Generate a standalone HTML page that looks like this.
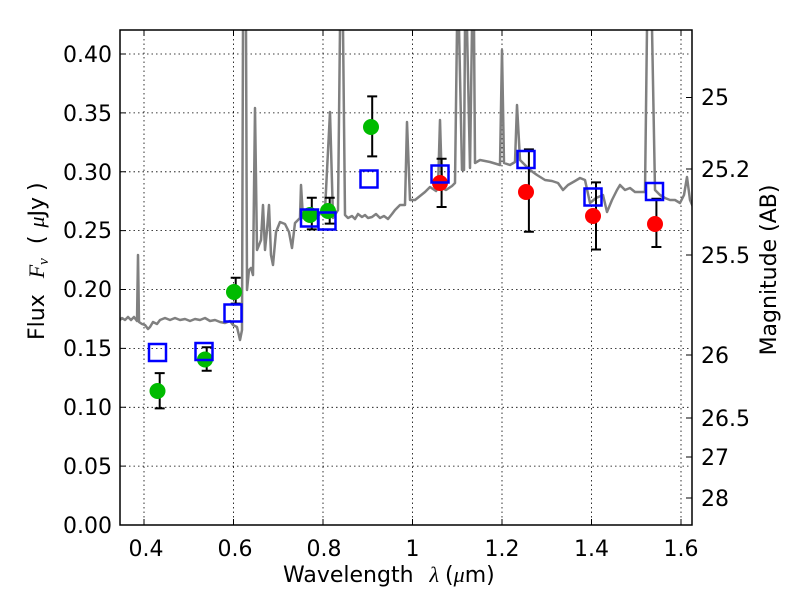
<!DOCTYPE html>
<html><head><meta charset="utf-8"><style>
html,body{margin:0;padding:0;background:#fff;}
svg text{font-family:"DejaVu Sans","Liberation Sans",sans-serif;font-size:22px;fill:#000;}
</style></head><body>
<svg width="800" height="600" viewBox="0 0 800 600" xmlns="http://www.w3.org/2000/svg">
<rect width="800" height="600" fill="#fff"/>
<defs><clipPath id="c"><rect x="120" y="30" width="572" height="495"/></clipPath></defs>
<g stroke="#000" stroke-width="0.8" stroke-dasharray="1.5,3" fill="none">
<line x1="144" y1="30" x2="144" y2="525"/><line x1="233.5" y1="30" x2="233.5" y2="525"/>
<line x1="323" y1="30" x2="323" y2="525"/><line x1="412.5" y1="30" x2="412.5" y2="525"/>
<line x1="502" y1="30" x2="502" y2="525"/><line x1="591.5" y1="30" x2="591.5" y2="525"/>
<line x1="681" y1="30" x2="681" y2="525"/>
<line x1="120" y1="466.1" x2="692" y2="466.1"/><line x1="120" y1="407.3" x2="692" y2="407.3"/>
<line x1="120" y1="348.4" x2="692" y2="348.4"/><line x1="120" y1="289.5" x2="692" y2="289.5"/>
<line x1="120" y1="230.6" x2="692" y2="230.6"/><line x1="120" y1="171.8" x2="692" y2="171.8"/>
<line x1="120" y1="112.9" x2="692" y2="112.9"/><line x1="120" y1="54" x2="692" y2="54"/>
</g>
<g clip-path="url(#c)">
<polyline fill="none" stroke="#808080" stroke-width="2.5" stroke-linejoin="round" points="
119,321 122,318 125,320 128,317 131,320 134,317 137,321 138,255 139,322 142,324 145,325 148,329 150,327 153,322 157,324 160,320 165,318 170,320 175,318 180,320 185,319 190,321 195,319 200,320 205,318 210,321 215,320 220,322 225,323 230,321 233,325 237,327 240,340 242,330 243,28 246,28 247,290 249,270 251,268 253,275 255,108 257,250 259,245 261,240 263,205 265,250 267,230 269,205 271,255 273,265 276,232 280,222 285,224 289,232 292,248 295,223 300,218 301,185 303,218 308,216 314,214 318,216 322,212 325,210 330,112 333,218 338,210 340,28 343,28 345,215 348,218 352,216 355,219 358,214 362,217 365,215 368,218 372,217 376,214 380,218 384,216 388,219 392,214 395,210 400,205 405,205 407,122 410,200 415,200 420,196 425,192 430,187 436,191 438,188 440,120 442,188 446,190 452,186 455,183 457,28 459,28 462,170 464,170 465,28 467,28 470,168 472,28 474,28 475,163 480,160 490,162 500,165 502,50 504,163 510,165 515,162 517,105 520,160 525,165 530,170 537,175 545,180 552,181 558,183 563,190 568,185 575,181 580,178 585,180 590,203 596,198 603,195 607,212 612,200 617,190 620,185 625,190 630,188 635,192 640,192 645,192 647,28 652,28 655,190 660,195 665,198 670,200 675,200 680,203 684,195 687,177 690,200 693,207"/>
</g>
<g stroke="#000" stroke-width="2" fill="none">
<path d="M159.7,408.4V373.1M154.7,408.4h10M154.7,373.1h10"/>
<path d="M206.7,370.7V347.2M201.7,370.7h10M201.7,347.2h10"/>
<path d="M235.7,303.6V277.7M230.7,303.6h10M230.7,277.7h10"/>
<path d="M311.8,229.4V197.7M306.8,229.4h10M306.8,197.7h10"/>
<path d="M329.7,223.6V197.7M324.7,223.6h10M324.7,197.7h10"/>
<path d="M372.2,156.4V96.4M367.2,156.4h10M367.2,96.4h10"/>
<path d="M441.6,207V158.8M436.6,207h10M436.6,158.8h10"/>
<path d="M528.9,231.8V149.4M523.9,231.8h10M523.9,149.4h10"/>
<path d="M596,249.5V182.4M591,249.5h10M591,182.4h10"/>
<path d="M656.4,247V198.8M651.4,247h10M651.4,198.8h10"/>
</g>
<g fill="#00bb00">
<circle cx="157.5" cy="391" r="8"/><circle cx="205" cy="359.5" r="8"/><circle cx="234" cy="292" r="8"/>
<circle cx="310" cy="215" r="8"/><circle cx="328" cy="211" r="8"/><circle cx="371" cy="127" r="8"/>
</g>
<g fill="#ff0000">
<circle cx="440" cy="183" r="8"/><circle cx="526" cy="192" r="8"/><circle cx="593" cy="216" r="8"/><circle cx="655" cy="224" r="8"/>
</g>
<g fill="none" stroke="#0000ff" stroke-width="2.5">
<rect x="149" y="344" width="17" height="17"/><rect x="195.5" y="343" width="17" height="17"/>
<rect x="224.5" y="304.5" width="17" height="17"/><rect x="301" y="209.5" width="17" height="17"/>
<rect x="318.5" y="212.5" width="17" height="17"/><rect x="360.5" y="170.5" width="17" height="17"/>
<rect x="431.5" y="165.5" width="17" height="17"/><rect x="517.5" y="151" width="17" height="17"/>
<rect x="584.5" y="188.5" width="17" height="17"/><rect x="646" y="183" width="17" height="17"/>
</g>
<rect x="120" y="30" width="572" height="495" fill="none" stroke="#000" stroke-width="1.5"/>
<g stroke="#000" stroke-width="1">
<path d="M144,525v-6M233.5,525v-6M323,525v-6M412.5,525v-6M502,525v-6M591.5,525v-6M681,525v-6"/>
<path d="M144,30v6M233.5,30v6M323,30v6M412.5,30v6M502,30v6M591.5,30v6M681,30v6"/>
<path d="M120,466.1h6M120,407.3h6M120,348.4h6M120,289.5h6M120,230.6h6M120,171.8h6M120,112.9h6M120,54h6"/>
<path d="M692,97.5h-6M692,169h-6M692,255h-6M692,355h-6M692,418h-6M692,457h-6M692,498h-6"/>
</g>
<g text-anchor="middle">
<text x="146" y="556">0.4</text><text x="235" y="556">0.6</text><text x="324" y="556">0.8</text>
<text x="412.5" y="556">1</text><text x="502" y="556">1.2</text><text x="591.5" y="556">1.4</text><text x="681" y="556">1.6</text>
</g>
<g text-anchor="end">
<text x="112" y="533">0.00</text><text x="112" y="474">0.05</text><text x="112" y="415">0.10</text>
<text x="112" y="356">0.15</text><text x="112" y="297">0.20</text><text x="112" y="238">0.25</text>
<text x="112" y="180">0.30</text><text x="112" y="121">0.35</text><text x="112" y="62">0.40</text>
</g>
<g>
<text x="701" y="105">25</text><text x="701" y="177">25.2</text><text x="701" y="263">25.5</text>
<text x="701" y="363">26</text><text x="701" y="426">26.5</text><text x="701" y="465">27</text><text x="701" y="506">28</text>
</g>
<text x="283" y="582">Wavelength<tspan dx="16" font-family="Liberation Serif,serif" font-style="italic">λ</tspan><tspan dx="6">(</tspan><tspan font-family="Liberation Serif,serif" font-style="italic">μ</tspan>m)</text>
<text transform="translate(44,340) rotate(-90)">Flux<tspan dx="16" font-family="Liberation Serif,serif" font-style="italic">F<tspan font-size="15" dy="4">ν</tspan></tspan><tspan dx="14" dy="-4">(</tspan><tspan dx="8" font-family="Liberation Serif,serif" font-style="italic">μ</tspan>Jy<tspan dx="6">)</tspan></text>
<text transform="translate(776,270) rotate(-90)" text-anchor="middle">Magnitude (AB)</text>
</svg>
</body></html>
